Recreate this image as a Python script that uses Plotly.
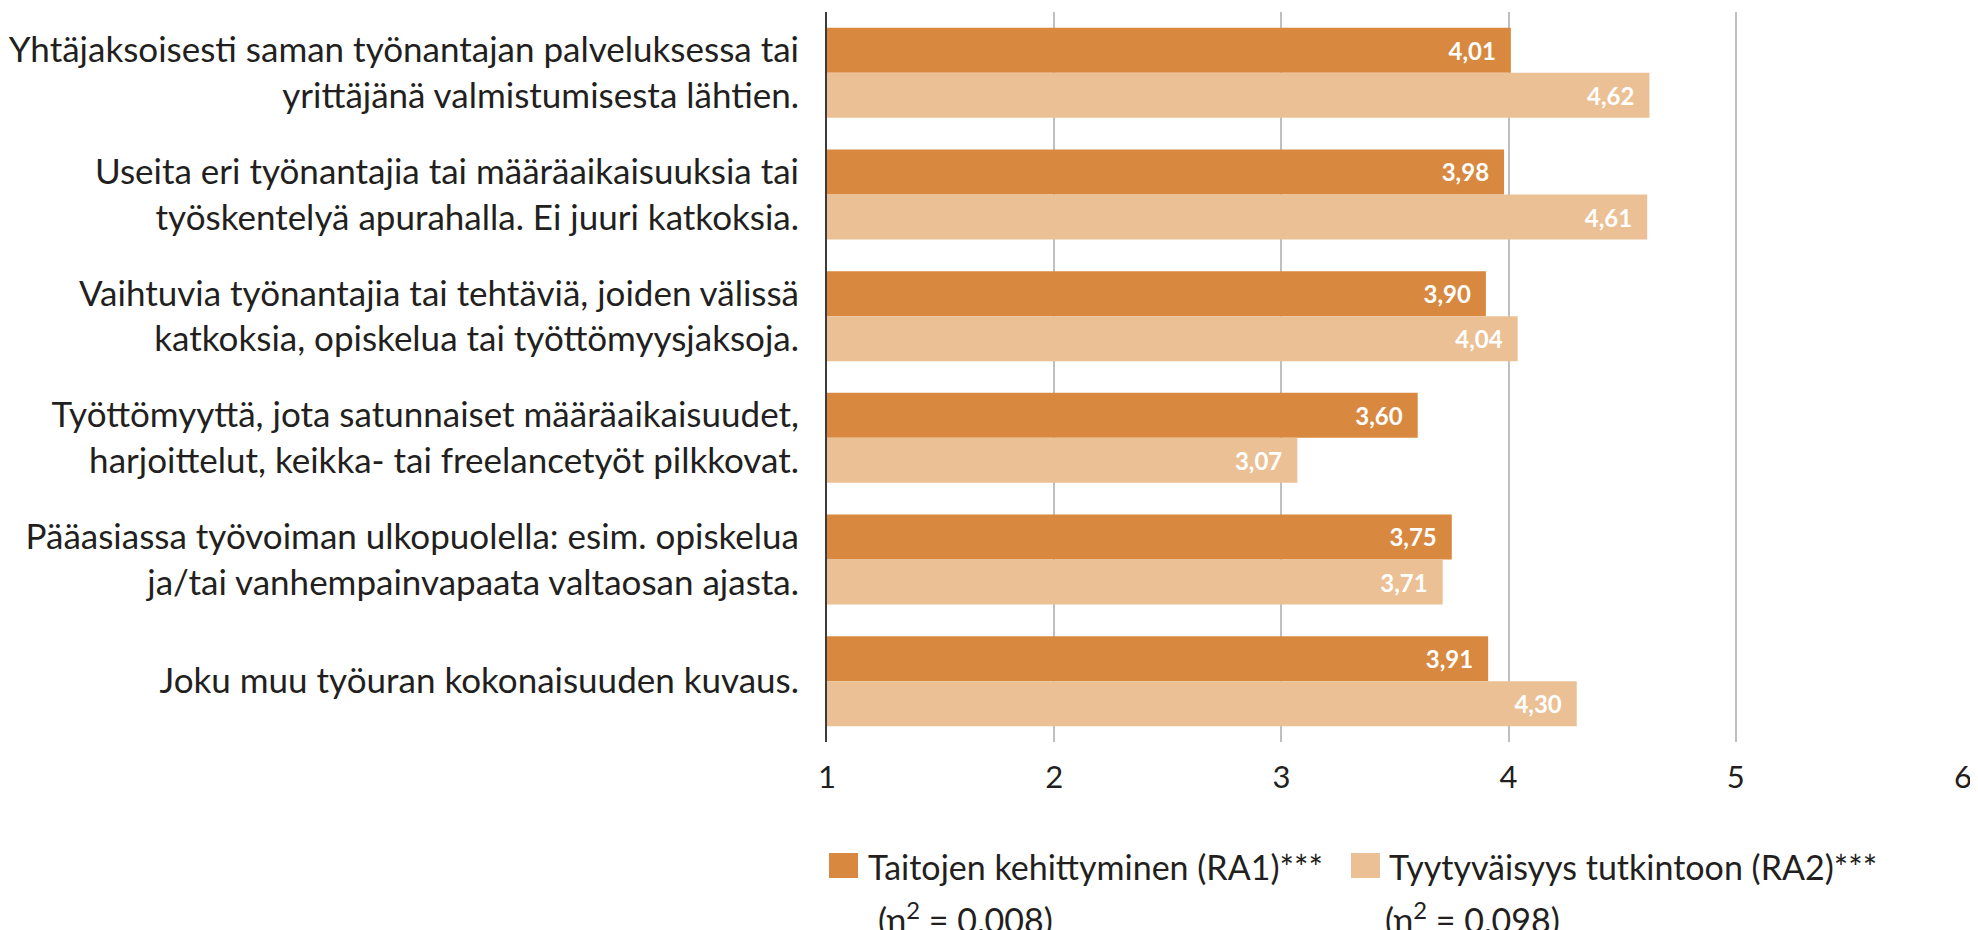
import plotly.graph_objects as go

categories = [
    "Yhtäjaksoisesti saman työnantajan palveluksessa tai<br>yrittäjänä valmistumisesta lähtien.",
    "Useita eri työnantajia tai määräaikaisuuksia tai<br>työskentelyä apurahalla. Ei juuri katkoksia.",
    "Vaihtuvia työnantajia tai tehtäviä, joiden välissä<br>katkoksia, opiskelua tai työttömyysjaksoja.",
    "Työttömyyttä, jota satunnaiset määräaikaisuudet,<br>harjoittelut, keikka- tai freelancetyöt pilkkovat.",
    "Pääasiassa työvoiman ulkopuolella: esim. opiskelua<br>ja/tai vanhempainvapaata valtaosan ajasta.",
    "Joku muu työuran kokonaisuuden kuvaus.",
]
ra1_values = [4.01, 3.98, 3.90, 3.60, 3.75, 3.91]
ra2_values = [4.62, 4.61, 4.04, 3.07, 3.71, 4.30]
series_names = ["Taitojen kehittyminen (RA1)***", "Tyytyväisyys tutkintoon (RA2)***"]
eta_labels = ["(η<sup>2</sup> = 0,008)", "(η<sup>2</sup> = 0,098)"]
x_ticks = [1, 2, 3, 4, 5, 6]

DARK = "#D8893F"
LIGHT = "#EBC094"
TEXT = "#231F20"
FONT = "Lato"

OFF = 8  # default page body margin
W, H = 1978 - OFF, 930 - OFF
L, R, T, B = 827 - OFF, 15, 12 - OFF, 188
pw, ph = W - L - R, H - T - B

def px(x):  # page pixel -> paper x
    return (x - OFF - L) / pw

def py(y):  # page pixel -> paper y
    return (H - B - (y - OFF)) / ph

fig = go.Figure()
for name, vals, col in [(series_names[0], ra1_values, DARK), (series_names[1], ra2_values, LIGHT)]:
    fig.add_trace(go.Bar(
        y=categories, x=vals, orientation="h", name=name,
        marker=dict(color=col, line=dict(width=0)),
        texttemplate="%{x:.2f}\u2002", textposition="inside", insidetextanchor="end",
        insidetextfont=dict(color="white", size=24, family=FONT, weight="bold"),
        constraintext="none", cliponaxis=False,
    ))

fig.update_layout(
    width=W, height=H, barmode="group", bargap=0.26, bargroupgap=0,
    separators=", ",
    margin=dict(l=L, r=R, t=T, b=B, autoexpand=False),
    plot_bgcolor="white", paper_bgcolor="white",
    showlegend=False,
    font=dict(family=FONT, color=TEXT, size=30),
)
fig.update_xaxes(
    range=[1, 6], tickvals=x_ticks, ticktext=[str(t) for t in x_ticks],
    showgrid=True, gridcolor="#BFBFBF", gridwidth=2, zeroline=False, showline=False,
    tickfont=dict(size=31, color=TEXT, family=FONT), ticks="", ticklabelstandoff=14,
)
fig.update_yaxes(
    autorange="reversed", showline=True, linecolor="#3C3C3C", linewidth=2,
    ticks="", tickfont=dict(size=35, color=TEXT, family=FONT), ticklabelstandoff=19,
)

# legend drawn manually (large square swatches, two-line labels)
legend_items = [
    (829, DARK, series_names[0], 866, eta_labels[0], 876),
    (1351, LIGHT, series_names[1], 1387, eta_labels[1], 1383),
]
for sx, col, name, tx, eta, ex in legend_items:
    fig.add_shape(type="rect", xref="paper", yref="paper",
                  x0=px(sx), x1=px(sx + 29), y0=py(853), y1=py(878),
                  fillcolor=col, line=dict(width=0))
    fig.add_annotation(xref="paper", yref="paper", x=px(tx), y=py(866), text=name,
                       showarrow=False, xanchor="left", yanchor="middle",
                       font=dict(size=34, color=TEXT, family=FONT))
    fig.add_annotation(xref="paper", yref="paper", x=px(ex), y=py(918), text=eta,
                       showarrow=False, xanchor="left", yanchor="middle",
                       font=dict(size=34, color=TEXT, family=FONT))

fig.write_html("out.html")
